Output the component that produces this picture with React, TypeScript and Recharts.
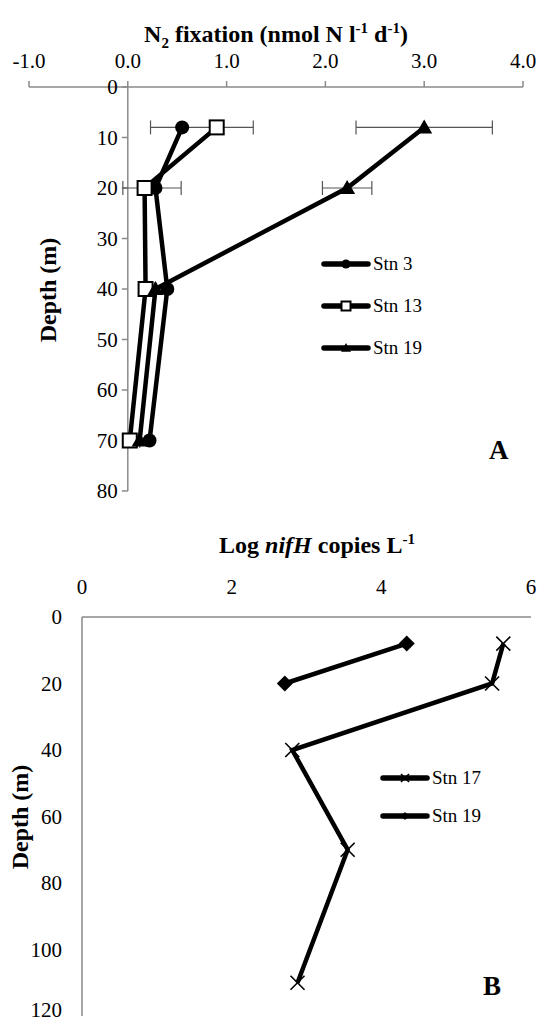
import { ScatterChart, Scatter, XAxis, YAxis, ErrorBar, ReferenceLine, Legend } from "recharts"

// Panel A: N2 fixation vs depth
const depthA = [8, 20, 40, 70]
const stn3 = [0.55, 0.28, 0.4, 0.22]
const stn13 = [0.9, 0.17, 0.18, 0.02]
const stn13Err = [[0.67, 0.37], [0.22, 0.37], [0.06, 0.06], [0.07, 0.07]]
const stn19 = [3.0, 2.22, 0.28, 0.12]
const stn19Err = [[0.69, 0.69], [0.25, 0.25], [0, 0], [0, 0]]
const fixTicks = [-1, 0, 1, 2, 3, 4]
const depthTicksA = [0, 10, 20, 30, 40, 50, 60, 70, 80]

// Panel B: log nifH copies vs depth
const depthB17 = [8, 20, 40, 70, 110]
const stn17 = [5.63, 5.48, 2.81, 3.55, 2.88]
const depthB19 = [8, 20]
const stn19B = [4.34, 2.71]
const nifTicks = [0, 2, 4, 6]
const depthTicksB = [0, 20, 40, 60, 80, 100, 120]

const toPoints = (xs: number[], ys: number[], errs?: number[][]) =>
  xs.map((x, i) => ({ x, y: ys[i], err: errs ? errs[i] : undefined }))

const FONT = '"Liberation Serif", "Times New Roman", serif'
const GREY = "#8a8a8a"

const CircleMark = (p: any) => <circle cx={p.cx} cy={p.cy} r={p.r ?? 7} fill="#000" />
const SquareMark = (p: any) => {
  const s = p.s ?? 7
  return <rect x={p.cx - s} y={p.cy - s} width={s * 2} height={s * 2} fill="#fff" stroke="#000" strokeWidth={2} />
}
const TriangleMark = (p: any) => {
  const s = p.s ?? 8
  return <path d={`M${p.cx},${p.cy - s} L${p.cx + s},${p.cy + s * 0.75} L${p.cx - s},${p.cy + s * 0.75}Z`} fill="#000" />
}
const DiamondMark = (p: any) => {
  const s = p.s ?? 8
  return <path d={`M${p.cx},${p.cy - s} L${p.cx + s},${p.cy} L${p.cx},${p.cy + s} L${p.cx - s},${p.cy}Z`} fill="#000" />
}
const XMark = (p: any) => {
  const s = p.s ?? 7
  return (
    <g stroke="#000" strokeWidth={1.6}>
      <line x1={p.cx - s} y1={p.cy - s} x2={p.cx + s} y2={p.cy + s} />
      <line x1={p.cx - s} y1={p.cy + s} x2={p.cx + s} y2={p.cy - s} />
    </g>
  )
}

const seriesA = [
  { name: "Stn 3", marker: (p: any) => <CircleMark {...p} r={4.5} /> },
  { name: "Stn 13", marker: (p: any) => <SquareMark {...p} s={4.5} /> },
  { name: "Stn 19", marker: (p: any) => <TriangleMark {...p} s={5} /> },
]
const seriesB = [
  { name: "Stn 17", marker: (p: any) => <XMark {...p} s={4} /> },
  { name: "Stn 19", marker: (p: any) => <DiamondMark {...p} s={4} /> },
]

// legend drawn inside a zero-size box so it doesn't shrink the plot
const legendContent = (items: { name: string; marker: (p: any) => any }[], rowHeight: number) => () => (
  <div style={{ position: "relative", width: 0, height: 0, overflow: "visible" }}>
    <div style={{ position: "absolute", left: 0, top: 0, width: 140, fontFamily: FONT }}>
      {items.map((it) => (
        <div key={it.name} style={{ display: "flex", alignItems: "center", height: rowHeight }}>
          <svg width={50} height={16}>
            <line x1={3} y1={8} x2={47} y2={8} stroke="#000" strokeWidth={5.5} strokeLinecap="round" />
            {it.marker({ cx: 25, cy: 8 })}
          </svg>
          <span style={{ fontSize: 19, marginLeft: 2 }}>{it.name}</span>
        </div>
      ))}
    </div>
  </div>
)

const lineStyle = { stroke: "#000", strokeWidth: 4.5 }
const tickStyle = { fill: "#000", fontSize: 21, fontFamily: FONT }
const supStyle = { fontSize: 15 }

export default function App() {
  return (
    <div style={{ position: "relative", width: 539, height: 1022, fontFamily: FONT, background: "#fff" }}>
      <style>{`body{margin:0}`}</style>

      {/* Panel A */}
      <div style={{ position: "absolute", left: 0, top: 0 }}>
        <ScatterChart width={539} height={520} margin={{ top: 57, right: 16, bottom: 29, left: 29 }}>
          <XAxis
            type="number"
            dataKey="x"
            orientation="top"
            height={30}
            domain={[-1, 4]}
            ticks={fixTicks}
            tickFormatter={(v: number) => v.toFixed(1)}
            axisLine={{ stroke: GREY, strokeWidth: 1.5 }}
            tickLine={{ stroke: GREY, strokeWidth: 1.5 }}
            tickSize={6}
            tickMargin={13}
            tick={tickStyle}
          />
          <YAxis type="number" dataKey="y" domain={[0, 80]} reversed hide width={0} />
          <ReferenceLine segment={[{ x: 0, y: 0 }, { x: 0, y: 80 }]} stroke={GREY} strokeWidth={1.5} />
          {depthTicksA.map((d) => (
            <ReferenceLine
              key={d}
              segment={[{ x: -0.06, y: d }, { x: 0, y: d }]}
              stroke={GREY}
              strokeWidth={1.5}
              label={{ value: String(d), position: "left", offset: 4, fill: "#000", fontSize: 21, fontFamily: FONT }}
            />
          ))}
          <Scatter name="Stn 3" data={toPoints(stn3, depthA)} line={lineStyle} lineType="joint" shape={CircleMark} isAnimationActive={false} />
          <Scatter name="Stn 13" data={toPoints(stn13, depthA, stn13Err)} line={lineStyle} lineType="joint" shape={SquareMark} isAnimationActive={false}>
            <ErrorBar dataKey="err" direction="x" width={7} stroke="#555" strokeWidth={1.2} />
          </Scatter>
          <Scatter name="Stn 19" data={toPoints(stn19, depthA, stn19Err)} line={lineStyle} lineType="joint" shape={TriangleMark} isAnimationActive={false}>
            <ErrorBar dataKey="err" direction="x" width={7} stroke="#555" strokeWidth={1.2} />
          </Scatter>
          <Legend
            content={legendContent(seriesA, 42)}
            wrapperStyle={{ position: "absolute", left: 321, top: 243, width: 0, height: 0 }}
          />
        </ScatterChart>
      </div>

      <div style={{ position: "absolute", left: 0, top: 14, width: 552, textAlign: "center", fontWeight: "bold", fontSize: 24, lineHeight: "28px" }}>
        N<sub style={supStyle}>2</sub> fixation (nmol N l<sup style={supStyle}>-1</sup> d<sup style={supStyle}>-1</sup>)
      </div>
      <div style={{ position: "absolute", left: 48, top: 290, transform: "translate(-50%, -50%) rotate(-90deg)", fontWeight: "bold", fontSize: 24, whiteSpace: "nowrap" }}>
        Depth (m)
      </div>
      <div style={{ position: "absolute", left: 489, top: 435, fontWeight: "bold", fontSize: 27 }}>A</div>

      {/* Panel B */}
      <div style={{ position: "absolute", left: 0, top: 520 }}>
        <ScatterChart width={539} height={502} margin={{ top: 67, right: 8, bottom: 6, left: 22 }}>
          <XAxis
            type="number"
            dataKey="x"
            orientation="top"
            height={30}
            domain={[0, 6]}
            ticks={nifTicks}
            axisLine={{ stroke: GREY, strokeWidth: 1.5 }}
            tickLine={false}
            tickSize={0}
            tickMargin={23}
            tick={tickStyle}
          />
          <YAxis
            type="number"
            dataKey="y"
            domain={[0, 120]}
            ticks={depthTicksB}
            reversed
            width={60}
            axisLine={{ stroke: GREY, strokeWidth: 1.5 }}
            tickLine={false}
            tickSize={0}
            tickMargin={20}
            tick={tickStyle}
          />
          <Scatter name="Stn 17" data={toPoints(stn17, depthB17)} line={lineStyle} lineType="joint" shape={XMark} isAnimationActive={false} />
          <Scatter name="Stn 19" data={toPoints(stn19B, depthB19)} line={lineStyle} lineType="joint" shape={DiamondMark} isAnimationActive={false} />
          <Legend
            content={legendContent(seriesB, 38)}
            wrapperStyle={{ position: "absolute", left: 380, top: 239, width: 0, height: 0 }}
          />
        </ScatterChart>
      </div>

      <div style={{ position: "absolute", left: 0, top: 525, width: 634, textAlign: "center", fontWeight: "bold", fontSize: 24, lineHeight: "28px" }}>
        Log <i>nifH</i> copies L<sup style={supStyle}>-1</sup>
      </div>
      <div style={{ position: "absolute", left: 20, top: 817, transform: "translate(-50%, -50%) rotate(-90deg)", fontWeight: "bold", fontSize: 24, whiteSpace: "nowrap" }}>
        Depth (m)
      </div>
      <div style={{ position: "absolute", left: 483, top: 971, fontWeight: "bold", fontSize: 27 }}>B</div>
    </div>
  )
}
